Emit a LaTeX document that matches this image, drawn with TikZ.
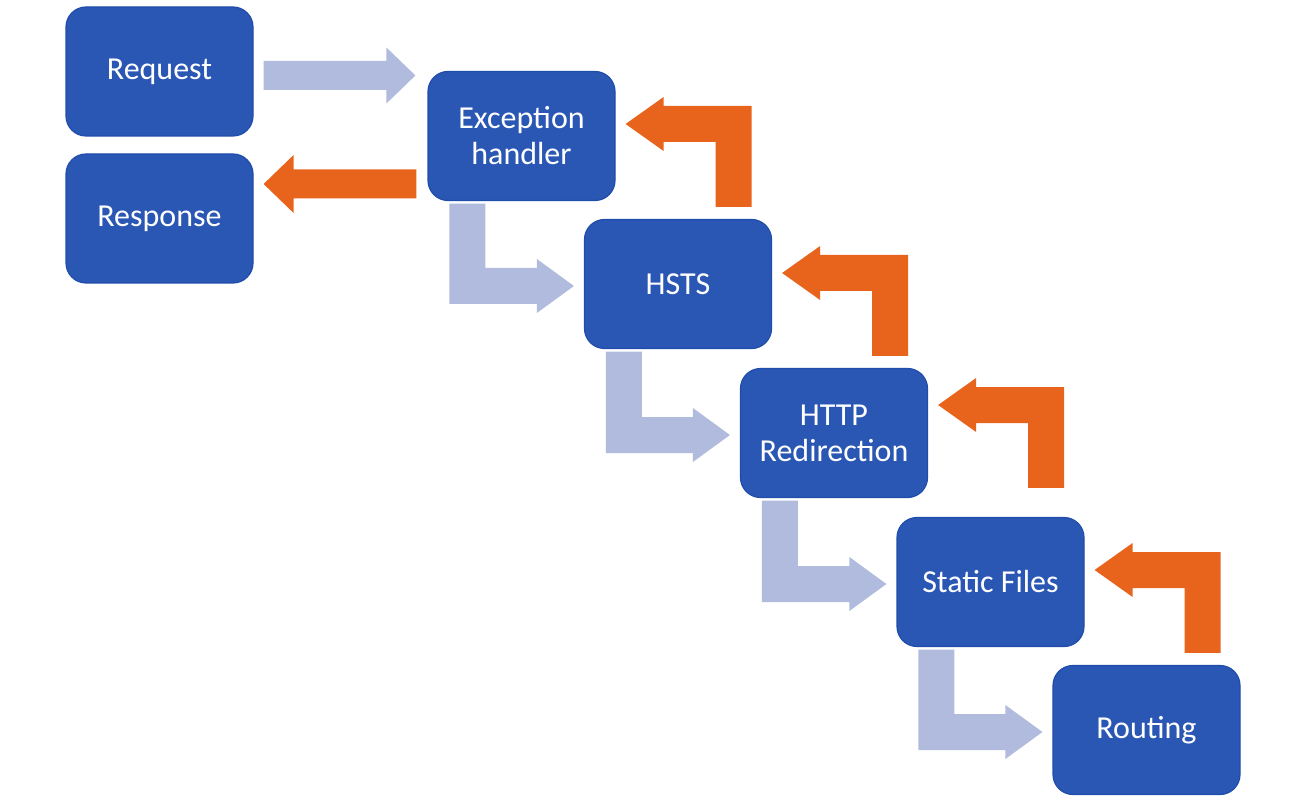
\documentclass[tikz,border=0pt]{standalone}
\usepackage{fontspec}
\setmainfont{Carlito}
\usetikzlibrary{calc}
\definecolor{boxblue}{RGB}{42,87,180}
\definecolor{boxedge}{RGB}{32,76,170}
\definecolor{lightflow}{RGB}{176,187,221}
\definecolor{backflow}{RGB}{232,99,27}
% light bent arrow from #1 (above) down and right into #2
\newcommand\lightbent[2]{%
  \fill[lightflow] let \p1=([xshift=22pt,yshift=-2.5pt]#1.south west),
                       \p2=([xshift=-10pt,yshift=-2pt]#2.west) in
    (\x1,\y1) -- ({\x1+36pt},\y1) -- ({\x1+36pt},{\y2+18pt}) --
    ({\x2-37pt},{\y2+18pt}) -- ({\x2-37pt},{\y2+27pt}) -- (\x2,\y2) --
    ({\x2-37pt},{\y2-27pt}) -- ({\x2-37pt},{\y2-18pt}) -- (\x1,{\y2-18pt}) -- cycle;}
% orange bent arrow from #1 (below) up and left into #2; #3 tip rise, #4 gap above source
\newcommand\backbent[4]{%
  \fill[backflow] let \p1=([yshift=#4pt]#1.north),
                      \p2=([xshift=10pt,yshift=#3pt]#2.east) in
    (\x2,\y2) -- ({\x2+38pt},{\y2+27pt}) -- ({\x2+38pt},{\y2+18pt}) --
    ({\x2+126pt},{\y2+18pt}) -- ({\x2+126pt},\y1) -- ({\x2+90pt},\y1) --
    ({\x2+90pt},{\y2-18pt}) -- ({\x2+38pt},{\y2-18pt}) -- ({\x2+38pt},{\y2-27pt}) -- cycle;}
\begin{document}
\begin{tikzpicture}[x=1pt,y=-1pt,
  stagebox/.style={draw=boxedge, line width=1.2pt, fill=boxblue, rounded corners=20pt,
    minimum width=187pt, minimum height=129pt, inner sep=0pt, text=white,
    align=center, font=\fontsize{32}{36}\selectfont}]
\useasboundingbox (0,0) rectangle (1307,802);

\node[stagebox] (req)     at (159.5,71.5)  {Request};
\node[stagebox] (resp)    at (159.5,218.5) {Response};
\node[stagebox] (exc)     at (521.5,136)   {Exception\\handler};
\node[stagebox] (hsts)    at (678,284)     {HSTS};
\node[stagebox] (http)    at (834,433)     {HTTP\\Redirection};
\node[stagebox] (static)  at (990.5,582)   {Static Files};
\node[stagebox] (routing) at (1146.5,730)  {Routing};

% request -> exception handler
\fill[lightflow] let \p1=([xshift=10pt,yshift=-4pt]req.east),
                     \p2=([xshift=-12pt]exc.west) in
  (\x1,{\y1+14.5pt}) -- ({\x2-29pt},{\y1+14.5pt}) -- ({\x2-29pt},{\y1+28pt}) --
  (\x2,\y1) -- ({\x2-29pt},{\y1-28pt}) -- ({\x2-29pt},{\y1-14.5pt}) -- (\x1,{\y1-14.5pt}) -- cycle;

% exception handler -> response
\fill[backflow] let \p1=([xshift=-11pt]exc.west),
                    \p2=([xshift=10pt,yshift=34.5pt]resp.east) in
  (\x1,{\y2+14.5pt}) -- ({\x2+30pt},{\y2+14.5pt}) -- ({\x2+30pt},{\y2+29pt}) --
  (\x2,\y2) -- ({\x2+30pt},{\y2-29pt}) -- ({\x2+30pt},{\y2-14.5pt}) -- (\x1,{\y2-14.5pt}) -- cycle;

\lightbent{exc}{hsts}
\lightbent{hsts}{http}
\lightbent{http}{static}
\lightbent{static}{routing}

\backbent{hsts}{exc}{12}{12}
\backbent{http}{hsts}{11}{12}
\backbent{static}{http}{28}{29}
\backbent{routing}{static}{12}{12}
\end{tikzpicture}
\end{document}
